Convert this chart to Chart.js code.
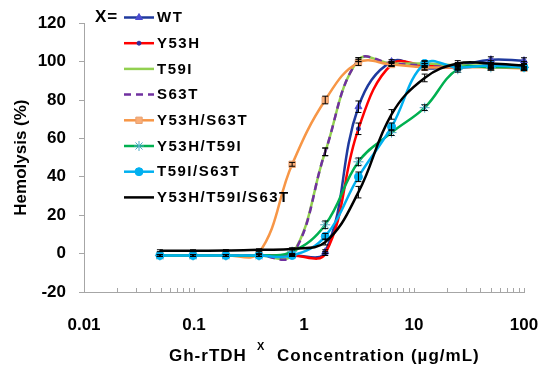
<!DOCTYPE html>
<html>
<head>
<meta charset="utf-8">
<script src="https://cdn.jsdelivr.net/npm/chart.js@4/dist/chart.umd.min.js"></script>
<style>
  html, body { margin: 0; padding: 0; background: #fff; }
</style>
</head>
<body>
<canvas id="hemolise" width="559" height="382"></canvas>
<script>
// concentrações (µg/mL) - diluição seriada
var conc = [0.049, 0.098, 0.195, 0.39, 0.78, 1.56, 3.125, 6.25, 12.5, 25, 50, 100];
var nomes = ["WT", "Y53H", "T59I", "S63T", "Y53H/S63T", "Y53H/T59I", "T59I/S63T", "Y53H/T59I/S63T"];

// hemólise (%)
var wt        = [-1, -1, -1, -1, -1, 1, 76.5, 100, 96.5, 98, 101, 100.5];
var y53h      = [-1, -1, -1, -1, -1, 0, 65, 98.5, 98, 97, 98, 97];
var t59i      = [-1, -1, -1, -1, -0.5, 53, 101, 99, 99, 98, 98, 97.5];
var s63t      = [-1, -1, -1, -1, -1, 53, 101, 99, 98, 97, 98, 98];
var y53hS63t  = [-1, -1, -1, 0.5, 46.5, 80, 99.5, 98.5, 97, 97, 97, 96.5];
var y53hT59i  = [-1, -1, -1, -1, 1, 15, 47.8, 63, 76, 96, 97, 97];
var t59iS63t  = [-1, -1, -1, -1, -1, 9, 40, 66, 99, 97, 98, 97];
var triplo    = [1.5, 1.5, 1.6, 2, 2.5, 6, 32, 72.5, 91.5, 99, 99, 98];

// desvio padrão
var errWt       = [0.5, 0.5, 0.5, 0.5, 0.5, 1, 3, 1, 1, 1.5, 1.5, 1.5];
var errY53h     = [0.5, 0.5, 0.5, 0.5, 0.5, 1, 3, 1, 1, 1, 1.5, 1.5];
var errT59i     = [0.5, 0.5, 0.5, 0.5, 0.5, 2, 1, 1, 1, 1, 1, 1];
var errS63t     = [0.5, 0.5, 0.5, 0.5, 0.5, 2, 1, 1, 1, 1, 1, 1];
var errY53hS63t = [0.5, 0.5, 0.5, 0.5, 1, 2, 1.5, 1, 1, 1, 1, 1];
var errY53hT59i = [0.5, 0.5, 0.5, 0.5, 1, 2, 2, 1.5, 1.5, 1.5, 1.5, 1.5];
var errT59iS63t = [0.5, 0.5, 0.5, 0.5, 0.5, 1.5, 2.5, 2, 1.5, 1.5, 1.5, 1.5];
var errTriplo   = [0.5, 0.5, 0.5, 0.5, 0.5, 1.5, 3, 2.5, 2, 1.5, 1.5, 2];

var xTicks = [0.01, 0.1, 1, 10, 100];
var yMin = -20, yMax = 120, yStep = 20;

var FONTE = '"Liberation Sans", Arial, sans-serif';
Chart.defaults.font.family = FONTE;
Chart.defaults.color = "#000";

function pontos(vals) {
  return conc.map(function (c, k) { return { x: c, y: vals[k] }; });
}

var series = [
  { v: wt, e: errWt, cor: "#1F3A9E", estilo: "triangle", raio: 4, fundo: "#4B4BD0", borda: "#4B4BD0" },
  { v: y53h, e: errY53h, cor: "#FF0000", estilo: "circle", raio: 2, fundo: "#2F2F9F", borda: "#2F2F9F" },
  { v: t59i, e: errT59i, cor: "#92D050", estilo: false, raio: 0 },
  { v: s63t, e: errS63t, cor: "#7030A0", estilo: false, raio: 0, dash: [7, 5] },
  { v: y53hS63t, e: errY53hS63t, cor: "#F79646", estilo: "rect", raio: 4.5, fundo: "#FAAE78", borda: "#E8A070" },
  { v: y53hT59i, e: errY53hT59i, cor: "#00B050", estilo: "star", raio: 5, fundo: "#4BACC6", borda: "#4BACC6" },
  { v: t59iS63t, e: errT59iS63t, cor: "#00B0F0", estilo: "circle", raio: 4, fundo: "#00B0F0", borda: "#00B0F0" },
  { v: triplo, e: errTriplo, cor: "#000000", estilo: false, raio: 0 }
];

var datasets = series.map(function (s, i) {
  return {
    label: nomes[i],
    data: pontos(s.v),
    erro: s.e,
    borderColor: s.cor,
    borderWidth: 2.5,
    borderDash: s.dash || [],
    tension: 0.4,
    pointStyle: s.estilo,
    pointRadius: s.raio,
    pointBackgroundColor: s.fundo || s.cor,
    pointBorderColor: s.borda || s.cor,
    pointBorderWidth: 1,
    order: series.length - 1 - i,
    clip: 8
  };
});

// barras de erro
var barrasErro = {
  id: "barrasErro",
  afterDatasetsDraw: function (chart) {
    var ctx = chart.ctx, ys = chart.scales.y;
    ctx.save();
    ctx.strokeStyle = "#000";
    ctx.lineWidth = 1;
    chart.data.datasets.forEach(function (ds, i) {
      var meta = chart.getDatasetMeta(i);
      meta.data.forEach(function (pt, j) {
        var e = ds.erro[j];
        var v = ds.data[j].y;
        var t = ys.getPixelForValue(v + e), b = ys.getPixelForValue(v - e);
        ctx.beginPath();
        ctx.moveTo(pt.x, t); ctx.lineTo(pt.x, b);
        ctx.moveTo(pt.x - 3, t); ctx.lineTo(pt.x + 3, t);
        ctx.moveTo(pt.x - 3, b); ctx.lineTo(pt.x + 3, b);
        ctx.stroke();
      });
    });
    ctx.restore();
  }
};

// marcas menores do eixo log, para dentro
var marcasLog = {
  id: "marcasLog",
  afterDraw: function (chart) {
    var ctx = chart.ctx, xs = chart.scales.x, base = chart.chartArea.bottom;
    ctx.save();
    ctx.strokeStyle = "#A6A6A6";
    ctx.lineWidth = 1;
    ctx.beginPath();
    for (var d = 0.01; d < 99; d *= 10) {
      for (var k = 1; k <= 9; k++) {
        var px = Math.round(xs.getPixelForValue(d * k)) + 0.5;
        ctx.moveTo(px, base);
        ctx.lineTo(px, base - 4);
      }
    }
    var pf = Math.round(xs.getPixelForValue(100)) + 0.5;
    ctx.moveTo(pf, base); ctx.lineTo(pf, base - 4);
    ctx.stroke();
    ctx.restore();
  }
};

// legenda e título do eixo x
var textos = {
  id: "textos",
  afterDraw: function (chart) {
    var ctx = chart.ctx;
    ctx.save();
    ctx.fillStyle = "#000";
    ctx.textBaseline = "middle";
    ctx.textAlign = "left";
    ctx.letterSpacing = "1px";
    ctx.font = "bold 17px " + FONTE;
    ctx.fillText("X=", 95, 17.5);

    ctx.font = "bold 15px " + FONTE;
    ctx.letterSpacing = "1.5px";
    series.forEach(function (s, i) {
      var y = 17.5 + i * 25.7;
      ctx.save();
      ctx.strokeStyle = s.cor;
      ctx.lineWidth = 2.5;
      ctx.setLineDash(s.dash || []);
      ctx.beginPath();
      ctx.moveTo(124, y); ctx.lineTo(154, y);
      ctx.stroke();
      ctx.restore();
      if (s.estilo) {
        ctx.save();
        ctx.fillStyle = s.fundo;
        ctx.strokeStyle = s.borda;
        ctx.lineWidth = 1;
        Chart.helpers.drawPoint(ctx, { pointStyle: s.estilo, radius: s.raio, rotation: 0, borderWidth: 1 }, 139, y);
        ctx.restore();
      }
      ctx.fillText(nomes[i], 157, y + 0.5);
    });

    // título do eixo x com o X sobrescrito
    ctx.letterSpacing = "1px";
    ctx.font = "bold 17px " + FONTE;
    ctx.fillText("Gh-rTDH", 169, 356);
    ctx.font = "bold 11px " + FONTE;
    ctx.fillText("X", 257, 347);
    ctx.font = "bold 17px " + FONTE;
    ctx.fillText("Concentration (\u00b5g/mL)", 277, 356);
    ctx.restore();
  }
};

new Chart(document.getElementById("hemolise").getContext("2d"), {
  type: "line",
  data: { datasets: datasets },
  options: {
    responsive: false,
    animation: false,
    events: [],
    layout: { padding: { left: 0, right: 35, top: 16, bottom: 0 } },
    plugins: { legend: { display: false }, tooltip: { enabled: false } },
    scales: {
      x: {
        type: "logarithmic",
        min: 0.01,
        max: 100,
        afterBuildTicks: function (s) {
          s.ticks = xTicks.map(function (v) { return { value: v }; });
        },
        afterFit: function (s) { s.height = 90; },
        grid: { display: false },
        border: { display: true, color: "#A6A6A6", width: 1 },
        ticks: {
          autoSkip: false,
          maxRotation: 0,
          padding: 15,
          font: { size: 17, weight: "bold" },
          callback: function (v) { return String(v); }
        }
      },
      y: {
        type: "linear",
        min: yMin,
        max: yMax,
        afterFit: function (s) { s.width = 84; },
        grid: { drawOnChartArea: false, drawTicks: true, tickLength: 5, color: "#A6A6A6" },
        border: { display: true, color: "#A6A6A6", width: 1 },
        ticks: {
          stepSize: yStep,
          padding: 13,
          font: { size: 17, weight: "bold" }
        },
        title: {
          display: true,
          text: "Hemolysis (%)",
          padding: { top: 11, bottom: 0 },
          font: { size: 17, weight: "bold" }
        }
      }
    }
  },
  plugins: [barrasErro, marcasLog, textos]
});
</script>
</body>
</html>
